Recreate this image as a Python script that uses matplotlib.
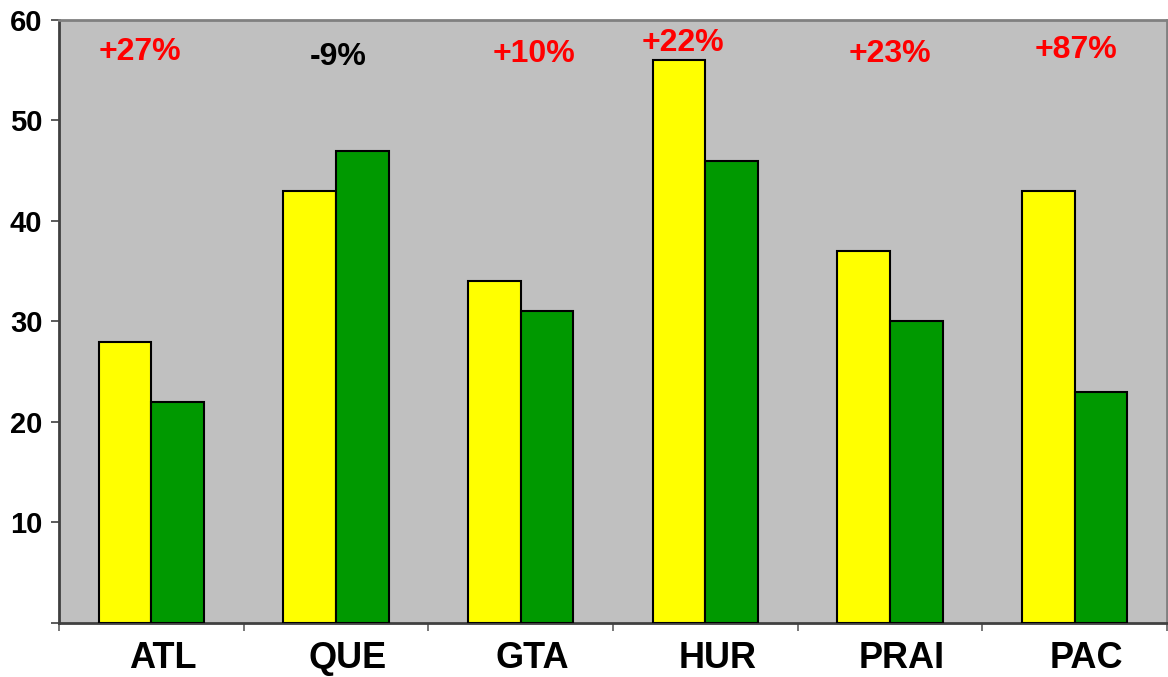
import matplotlib
matplotlib.use("Agg")
import matplotlib.pyplot as plt
import matplotlib.transforms as mtransforms
import numpy as np

plt.rcParams["font.family"] = ["Liberation Sans", "DejaVu Sans"]
plt.rcParams["font.weight"] = "bold"

regions = ["ATL", "QUE", "GTA", "HUR", "PRAI", "PAC"]
yellow_vals = [28, 43, 34, 56, 37, 43]
green_vals = [22, 47, 31, 46, 30, 23]
changes = ["+27%", "-9%", "+10%", "+22%", "+23%", "+87%"]
change_colors = ["red", "black", "red", "red", "red", "red"]

# where the change labels sit (x shift in category units, y in data units)
label_dx = [-0.06, 0.01, 0.07, -0.12, 0.0, 0.01]
label_y = [56.8, 56.3, 56.6, 57.7, 56.6, 57.0]

fig = plt.figure(figsize=(11.68, 6.77), dpi=100)
ax = fig.add_axes([0.0505, 0.0798, 0.9486, 0.8907])
ax.set_facecolor("#C0C0C0")

x = np.arange(len(regions))
w = 0.285
ax.bar(x - w / 2, yellow_vals, w, color="#FFFF00", edgecolor="black", linewidth=1.5, zorder=3)
ax.bar(x + w / 2, green_vals, w, color="#009900", edgecolor="black", linewidth=1.5, zorder=3)

for i, txt in enumerate(changes):
    ax.text(x[i] + label_dx[i], label_y[i], txt, ha="center", va="center",
            color=change_colors[i], fontsize=23, fontweight="bold")

ax.set_xlim(-0.5, len(regions) - 0.5)
ax.set_ylim(0, 60)

ax.set_yticks([0, 10, 20, 30, 40, 50, 60])
ax.set_yticklabels(["", "10", "20", "30", "40", "50", "60"])
ax.tick_params(axis="y", length=6, width=1.2, color="#404040", pad=6, labelsize=21)

# category names go between the boundary ticks
ax.set_xticks(np.arange(-0.5, len(regions), 1.0))
ax.set_xticklabels([])
ax.set_xticks(x, minor=True)
ax.set_xticklabels(regions, minor=True, fontsize=26, fontweight="bold")
ax.tick_params(axis="x", which="major", length=6, width=1.2, color="#606060")
ax.tick_params(axis="x", which="minor", length=0, pad=13)
shift = mtransforms.ScaledTranslation(12 / 100, 0, fig.dpi_scale_trans)
for lbl in ax.get_xticklabels(minor=True):
    lbl.set_transform(lbl.get_transform() + shift)

for side in ["top", "right"]:
    ax.spines[side].set_color("#808080")
    ax.spines[side].set_linewidth(2)
for side in ["left", "bottom"]:
    ax.spines[side].set_color("#404040")
    ax.spines[side].set_linewidth(2)

fig.savefig("out.png", dpi=100)
